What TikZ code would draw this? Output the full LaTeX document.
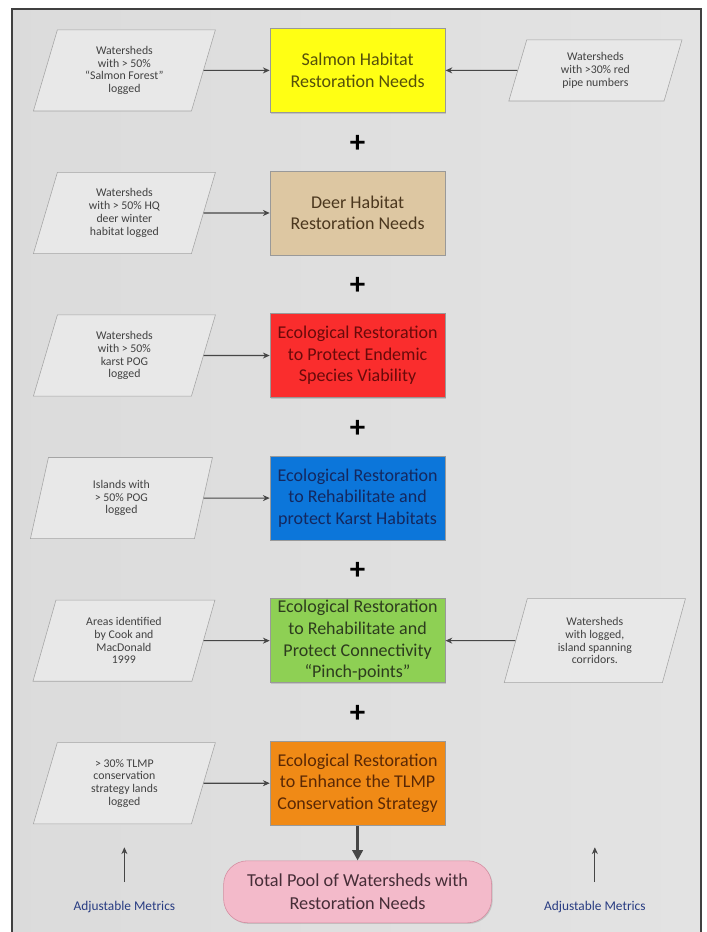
\documentclass[tikz,border=0pt]{standalone}
\usepackage{fontspec}
\setmainfont{Carlito}
\usetikzlibrary{shapes.geometric, arrows.meta, positioning, calc, shadows}

\definecolor{salmonfill}{RGB}{255,255,20}
\definecolor{salmontext}{RGB}{85,80,10}
\definecolor{deerfill}{RGB}{221,199,162}
\definecolor{deertext}{RGB}{75,55,30}
\definecolor{endemicfill}{RGB}{250,45,45}
\definecolor{endemictext}{RGB}{105,10,10}
\definecolor{karstfill}{RGB}{12,118,218}
\definecolor{karsttext}{RGB}{20,40,95}
\definecolor{pinchfill}{RGB}{142,208,84}
\definecolor{pinchtext}{RGB}{45,60,30}
\definecolor{tlmpfill}{RGB}{240,138,22}
\definecolor{tlmptext}{RGB}{90,40,5}
\definecolor{poolfill}{RGB}{243,186,202}
\definecolor{pooldraw}{RGB}{212,140,160}
\definecolor{pooltext}{RGB}{70,45,55}
\definecolor{metricfill}{RGB}{232,232,232}
\definecolor{metricdraw}{RGB}{165,165,165}
\definecolor{metrictext}{RGB}{65,65,65}
\definecolor{linkgray}{RGB}{70,70,70}
\definecolor{adjblue}{RGB}{40,60,130}

\begin{document}
\begin{tikzpicture}[
  node distance=1.45cm and 1.65cm,
  mainbox/.style={rectangle, minimum width=4.38cm, minimum height=2.1cm, inner sep=1pt,
    align=center, draw=black!40, font=\fontsize{12.8}{15.4}\selectfont,
    drop shadow={shadow xshift=0.8pt, shadow yshift=-0.8pt, opacity=0.3}},
  metric/.style={trapezium, trapezium left angle=65, trapezium right angle=115,
    trapezium stretches body, minimum width=4.55cm, minimum height=2.03cm, inner sep=1pt,
    align=center, draw=metricdraw, fill=metricfill, text=metrictext,
    font=\fontsize{8.4}{9.1}\selectfont},
  totalbox/.style={rectangle, rounded corners=0.6cm, minimum width=6.7cm, minimum height=1.55cm,
    align=center, draw=pooldraw, fill=poolfill, text=pooltext,
    font=\fontsize{13}{16.3}\selectfont,
    drop shadow={shadow xshift=0.8pt, shadow yshift=-0.8pt, opacity=0.3}},
  plus/.style={font=\fontsize{22}{22}\selectfont\bfseries, inner sep=0pt},
  adjnote/.style={text=adjblue, font=\fontsize{9.5}{11}\selectfont},
  arrow/.style={-{Stealth[length=1.7mm, width=1.5mm]}, line width=0.8pt, draw=linkgray},
  bigarrow/.style={-{Triangle[length=2.6mm, width=2.6mm]}, line width=2pt, draw=linkgray}
]

% page and frame
\useasboundingbox (0,0) rectangle (17.675,-23.3);
\fill [left color=gray!28, middle color=gray!5, right color=gray!22] (0.3,-0.225) rectangle (17.52,-23.3);
\draw [line width=1pt, black!75] (0.3,-23.3) |- (17.52,-0.225) -- (17.52,-23.3);

% restoration needs
\node (salmon) [mainbox, fill=salmonfill, text=salmontext] at (8.94,-1.76) {Salmon Habitat\\Restoration Needs};
\node (deer) [mainbox, fill=deerfill, text=deertext, below=of salmon] {Deer Habitat\\Restoration Needs};
\node (endemic) [mainbox, fill=endemicfill, text=endemictext, below=of deer] {Ecological Restoration\\to Protect Endemic\\Species Viability};
\node (karst) [mainbox, fill=karstfill, text=karsttext, below=of endemic] {Ecological Restoration\\to Rehabilitate and\\protect Karst Habitats};
\node (pinch) [mainbox, fill=pinchfill, text=pinchtext, below=of karst] {Ecological Restoration\\to Rehabilitate and\\Protect Connectivity\\“Pinch-points”};
\node (tlmp) [mainbox, fill=tlmpfill, text=tlmptext, below=of pinch] {Ecological Restoration\\to Enhance the TLMP\\Conservation Strategy};
\node (pool) [totalbox, below=0.875cm of tlmp] {Total Pool of Watersheds with\\Restoration Needs};

% metrics
\node (salmonleft) [metric, left=of salmon] {Watersheds\\with > 50\%\\“Salmon Forest”\\logged};
\node (salmonright) [metric, minimum width=4.33cm, minimum height=1.53cm, right=1.8cm of salmon] {Watersheds\\with >30\% red\\pipe numbers};
\node (deerleft) [metric, left=of deer] {Watersheds\\with > 50\% HQ\\deer winter\\habitat logged};
\node (endemicleft) [metric, left=of endemic] {Watersheds\\with > 50\%\\karst POG\\logged};
\node (karstleft) [metric, left=of karst] {Islands with\\> 50\% POG\\logged};
\node (pinchleft) [metric, left=of pinch] {Areas identified\\by Cook and\\MacDonald\\1999};
\node (pinchright) [metric, minimum width=4.53cm, minimum height=2.1cm, right=1.75cm of pinch] {Watersheds\\with logged,\\island spanning\\corridors.};
\node (tlmpleft) [metric, left=of tlmp] {> 30\% TLMP\\conservation\\strategy lands\\logged};

% plus signs
\foreach \a/\b [count=\i] in {salmon/deer, deer/endemic, endemic/karst, karst/pinch, pinch/tlmp}
  \node (plus\i) [plus] at ($(\a.south)!0.5!(\b.north)+(0,-0.05)$) {+};

% adjustable metrics
\node (adjL) [adjnote, below=1.8cm of tlmpleft] {Adjustable Metrics};
\node (adjR) [adjnote] at (pinchright |- adjL) {Adjustable Metrics};
\coordinate (tipL) at ($(tlmpleft.south)+(0,-0.58)$);
\coordinate (tipR) at (adjR |- tipL);

\draw [arrow] (salmonleft) -- (salmon);
\draw [arrow] (salmonright) -- (salmon);
\draw [arrow] (deerleft) -- (deer);
\draw [arrow] (endemicleft) -- (endemic);
\draw [arrow] (karstleft) -- (karst);
\draw [arrow] (pinchleft) -- (pinch);
\draw [arrow] (pinchright) -- (pinch);
\draw [arrow] (tlmpleft) -- (tlmp);
\draw [bigarrow] (tlmp) -- (pool);

\draw [arrow, line width=0.5pt, shorten <=0.35cm] (adjL.north) -- (tipL);
\draw [arrow, line width=0.5pt, shorten <=0.35cm] (adjR.north) -- (tipR);

\end{tikzpicture}
\end{document}
